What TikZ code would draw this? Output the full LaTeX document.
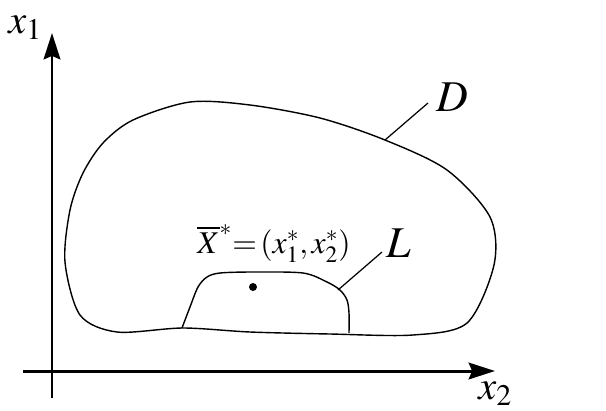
\documentclass[tikz,border=0pt]{standalone}
\usepackage{mathptmx}
\usepackage{fontspec}
\setmainfont{Liberation Serif}
\usetikzlibrary{arrows.meta,positioning}

\begin{document}
\begin{tikzpicture}[
  x=0.02cm, y=-0.02cm,
  axis/.style={line width=1.7pt, -{Stealth[length=15pt, width=9.5pt, inset=2pt]}},
  region/.style={line width=0.8pt},
  leader/.style={line width=0.7pt},
  big/.style={font=\fontsize{25}{30}\selectfont, inner sep=0pt},
  lbl/.style={font=\fontsize{18}{22}\selectfont, inner sep=0pt},
  axlbl/.style={font=\fontsize{23}{27}\selectfont, inner sep=0pt},
]
\useasboundingbox (0,0) rectangle (606,410);

% Axes
\coordinate (ybot) at (52,398);
\coordinate (ytop) at (52,33);
\coordinate (xleft) at (23,371);
\coordinate (xright) at (495,371);
\draw[axis] (ybot) -- (ytop);
\draw[axis] (xleft) -- (xright);
\node[axlbl, anchor=base west] (xone) at (8,33) {$x_1$};
\node[axlbl, anchor=base west] (xtwo) at (478,399) {$x_2$};

% Region D
\draw[region] plot[smooth cycle, tension=0.5] coordinates {
  (65,262) (70,210) (83,173) (103,143) (133,120) (190,102) (250,105)
  (320,118) (385,140) (447,170) (490,217) (494,265) (467,323) (413,335)
  (330,334) (250,332) (183,328) (117,332) (80,315)};

% Region L
\draw[region] plot[smooth, tension=0.5] coordinates {
  (182,328) (190,307) (198,287) (207,277) (220,273) (253,272) (303,273)
  (327,282) (340,290) (347,300) (349,313) (349,333)};

% Point X*
\fill (253,287) circle[radius=4];
\node[lbl, anchor=base] (xstar) at (274,253)
  {$\overline{X}^{*}\!\!=\!(x_1^*, x_2^*)$};

% Labels with leaders
\coordinate (donD) at (385,140);
\node[big] (dlab) at (452,97) {$D$};
\draw[leader] (donD) -- (428,103);
\coordinate (donL) at (338,290);
\node[big] (llab) at (399,243) {$L$};
\draw[leader] (donL) -- (382,252);
\end{tikzpicture}
\end{document}
